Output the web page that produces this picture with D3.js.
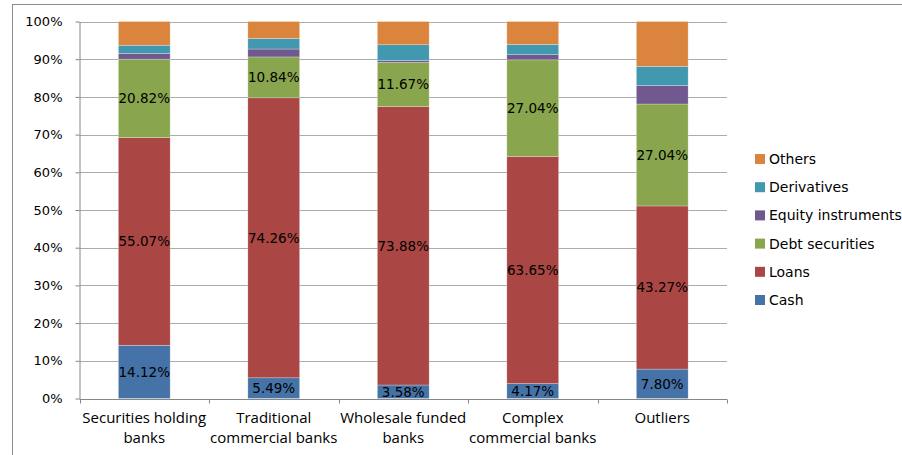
<!DOCTYPE html>
<html>
<head>
<meta charset="utf-8">
<script src="https://cdn.jsdelivr.net/npm/d3@7"></script>
<style>
  html, body { margin: 0; padding: 0; background: #fff; }
  svg { display: block; }
</style>
</head>
<body>
<div id="chart"></div>
<script>
// Asset composition by bank business model (shares of total assets, %)
const categories = [
  ["Securities holding", "banks"],
  ["Traditional", "commercial banks"],
  ["Wholesale funded", "banks"],
  ["Complex", "commercial banks"],
  ["Outliers"]
];
const seriesNames = ["Cash", "Loans", "Debt securities", "Equity instruments", "Derivatives", "Others"];
const seriesColors = ["#4572A7", "#AA4643", "#89A54E", "#71588F", "#4198AF", "#DB843D"];

const cash        = [14.12, 5.49, 3.58, 4.17, 7.80];
const loans       = [55.07, 74.26, 73.88, 63.65, 43.27];
const debt        = [20.82, 10.84, 11.67, 27.04, 27.04];
const equity      = [1.5, 2.1, 0.5, 1.45, 4.9];
const derivatives = [2.2, 2.8, 4.2, 2.85, 5.1];
const others      = [6.29, 4.5, 6.17, 6.44, 11.89];

const labelledSeries = ["Cash", "Loans", "Debt securities"];
const yTicks = [0, 0.1, 0.2, 0.3, 0.4, 0.5, 0.6, 0.7, 0.8, 0.9, 1.0];

const W = 902, H = 455;
const margin = { left: 79.5, right: W - 727, top: 21.5, bottom: H - 398.5 };

const rows = categories.map((c, i) => ({
  key: i,
  "Cash": cash[i],
  "Loans": loans[i],
  "Debt securities": debt[i],
  "Equity instruments": equity[i],
  "Derivatives": derivatives[i],
  "Others": others[i]
}));

// 100% stacked: each column is normalised to its own total
const stacked = d3.stack().keys(seriesNames).offset(d3.stackOffsetExpand)(rows);

const svg = d3.select("#chart").append("svg")
  .attr("width", W).attr("height", H);

// outer chart frame
svg.append("rect")
  .attr("x", 12.5).attr("y", 4.5)
  .attr("width", W + 20).attr("height", H + 20)
  .attr("fill", "none").attr("stroke", "#8c8c8c").attr("stroke-width", 1);

const x = d3.scaleBand()
  .domain(categories.map((c, i) => i))
  .range([margin.left, W - margin.right])
  .paddingInner(0.6).paddingOuter(0.3);

const y = d3.scaleLinear().domain([0, 1]).range([H - margin.bottom, margin.top]);

const fontAxis = "'Open Sans', 'DejaVu Sans', sans-serif";
const fontLabel = "'DejaVu Sans', Verdana, sans-serif";

// horizontal gridlines
svg.append("g")
  .selectAll("line").data(yTicks.filter(t => t > 0)).join("line")
  .attr("x1", margin.left).attr("x2", W - margin.right)
  .attr("y1", d => Math.round(y(d)) + 0.5).attr("y2", d => Math.round(y(d)) + 0.5)
  .attr("stroke", "#ababab").attr("stroke-width", 1.2);

// y axis
const yAxis = svg.append("g")
  .attr("transform", `translate(${margin.left},0)`)
  .call(d3.axisLeft(y).tickValues(yTicks).tickFormat(d3.format(".0%")).tickSize(4).tickSizeOuter(0));
yAxis.select(".domain").attr("stroke", "#868686");
yAxis.selectAll(".tick line").attr("stroke", "#868686");
yAxis.selectAll(".tick text")
  .attr("x", -17)
  .attr("font-family", fontLabel).attr("font-size", 13).attr("fill", "#000");

// bars
svg.append("g")
  .selectAll("g").data(stacked).join("g")
  .attr("fill", (d, i) => seriesColors[i])
  .selectAll("rect").data(d => d).join("rect")
  .attr("x", (d, i) => x(i))
  .attr("width", x.bandwidth())
  .attr("y", d => y(d[1]))
  .attr("height", d => y(d[0]) - y(d[1]))
  .attr("stroke", "rgba(255,255,255,0.45)").attr("stroke-width", 0.6);

// data labels centred in labelled segments
stacked.filter(s => labelledSeries.includes(s.key)).forEach(s => {
  svg.append("g").selectAll("text").data(s).join("text")
    .attr("x", (d, i) => x(i) + x.bandwidth() / 2)
    .attr("y", d => y((d[0] + d[1]) / 2))
    .attr("dy", "0.36em")
    .attr("text-anchor", "middle")
    .attr("font-family", fontLabel).attr("font-size", 13.5).attr("fill", "#000")
    .text((d, i) => d3.format(".2f")(d.data[s.key]) + "%");
});

// x axis baseline and category boundary ticks
const x0 = margin.left, x1 = W - margin.right, yb = Math.round(y(0)) + 0.5;
svg.append("line")
  .attr("x1", x0).attr("x2", x1).attr("y1", yb).attr("y2", yb)
  .attr("stroke", "#868686").attr("stroke-width", 1.2);
const boundaries = d3.range(categories.length + 1).map(i => x0 + i * x.step());
svg.append("g").selectAll("line").data(boundaries).join("line")
  .attr("x1", d => Math.round(d) + 0.5).attr("x2", d => Math.round(d) + 0.5)
  .attr("y1", yb).attr("y2", yb + 4)
  .attr("stroke", "#868686");

// category labels
svg.append("g").selectAll("text").data(categories).join("text")
  .attr("x", (d, i) => x(i) + x.bandwidth() / 2)
  .attr("y", 423)
  .attr("text-anchor", "middle")
  .attr("font-family", fontAxis).attr("font-size", 15).attr("fill", "#000")
  .each(function(d) {
    d3.select(this).selectAll("tspan").data(d).join("tspan")
      .attr("x", d3.select(this).attr("x"))
      .attr("dy", (t, j) => j === 0 ? 0 : 19.5)
      .text(t => t);
  });

// legend (top-down order: last series first)
const legendOrder = seriesNames.map((n, i) => i).reverse();
const legend = svg.append("g").selectAll("g").data(legendOrder).join("g")
  .attr("transform", (d, j) => `translate(755, ${159 + j * 28.2})`);
legend.append("rect")
  .attr("x", 0).attr("y", -5).attr("width", 10).attr("height", 10)
  .attr("fill", d => seriesColors[d]);
legend.append("text")
  .attr("x", 14).attr("y", 0).attr("dy", "0.36em")
  .attr("font-family", fontLabel).attr("font-size", 14).attr("fill", "#000")
  .text(d => seriesNames[d]);
</script>
</body>
</html>
